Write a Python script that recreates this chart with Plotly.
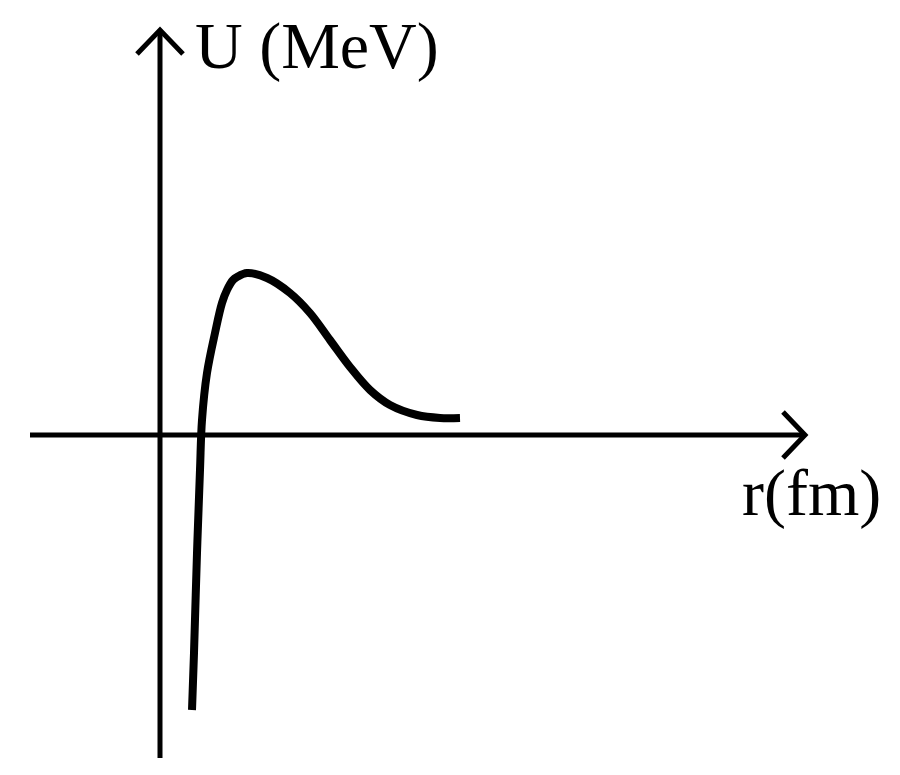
import plotly.graph_objects as go

# Potential curve U(r) (arbitrary units)
r_vals = [0.32, 0.34, 0.37, 0.40, 0.42, 0.47, 0.55, 0.62, 0.67, 0.73, 0.77, 0.87, 1.07, 1.30,
          1.50, 1.70, 1.90, 2.10, 2.30, 2.57, 2.80, 3.00]
u_vals = [-2.75, -2.18, -1.18, -0.35, 0.15, 0.62, 1.02, 1.32, 1.45, 1.55, 1.58, 1.62, 1.57, 1.42,
          1.22, 0.95, 0.68, 0.45, 0.30, 0.20, 0.17, 0.17]

# Axis extents
x_axis_span = [-1.30, 6.45]
y_axis_span = [-3.23, 4.05]
arrow_len = 0.22
arrow_half = 0.23

x_label = "r(fm)"
y_label = "U (MeV)"

fig = go.Figure()

line_style = dict(color="black", width=5)

# Horizontal axis
fig.add_trace(go.Scatter(x=x_axis_span, y=[0, 0], mode="lines", line=line_style,
                         hoverinfo="skip"))
# Vertical axis
fig.add_trace(go.Scatter(x=[0, 0], y=y_axis_span, mode="lines", line=line_style,
                         hoverinfo="skip"))

# Arrowheads (chevrons)
xt = x_axis_span[1]
fig.add_trace(go.Scatter(x=[xt - arrow_len, xt, xt - arrow_len],
                         y=[arrow_half, 0, -arrow_half], mode="lines",
                         line=line_style, hoverinfo="skip"))
yt = y_axis_span[1]
fig.add_trace(go.Scatter(x=[-arrow_half, 0, arrow_half],
                         y=[yt - arrow_len - 0.02, yt, yt - arrow_len - 0.02], mode="lines",
                         line=line_style, hoverinfo="skip"))

# Curve
fig.add_trace(go.Scatter(x=r_vals, y=u_vals, mode="lines",
                         line=dict(color="black", width=8, shape="spline", smoothing=1.0),
                         hoverinfo="skip"))

font = dict(family="Liberation Serif, Times New Roman, serif", size=66, color="black")
fig.add_annotation(x=0.34, y=4.27, text=y_label, showarrow=False, xanchor="left",
                   yanchor="top", borderpad=0, font=font)
fig.add_annotation(x=5.81, y=-0.58, text=x_label, showarrow=False, xanchor="left",
                   yanchor="middle", borderpad=0, font=font)

fig.update_layout(
    width=900, height=775,
    margin=dict(l=0, r=0, t=0, b=0),
    paper_bgcolor="white", plot_bgcolor="white",
    showlegend=False,
    xaxis=dict(range=[-1.52, 7.48], visible=False, fixedrange=True),
    yaxis=dict(range=[-3.48, 4.27], visible=False, fixedrange=True),
)

fig.write_html("out.html")
